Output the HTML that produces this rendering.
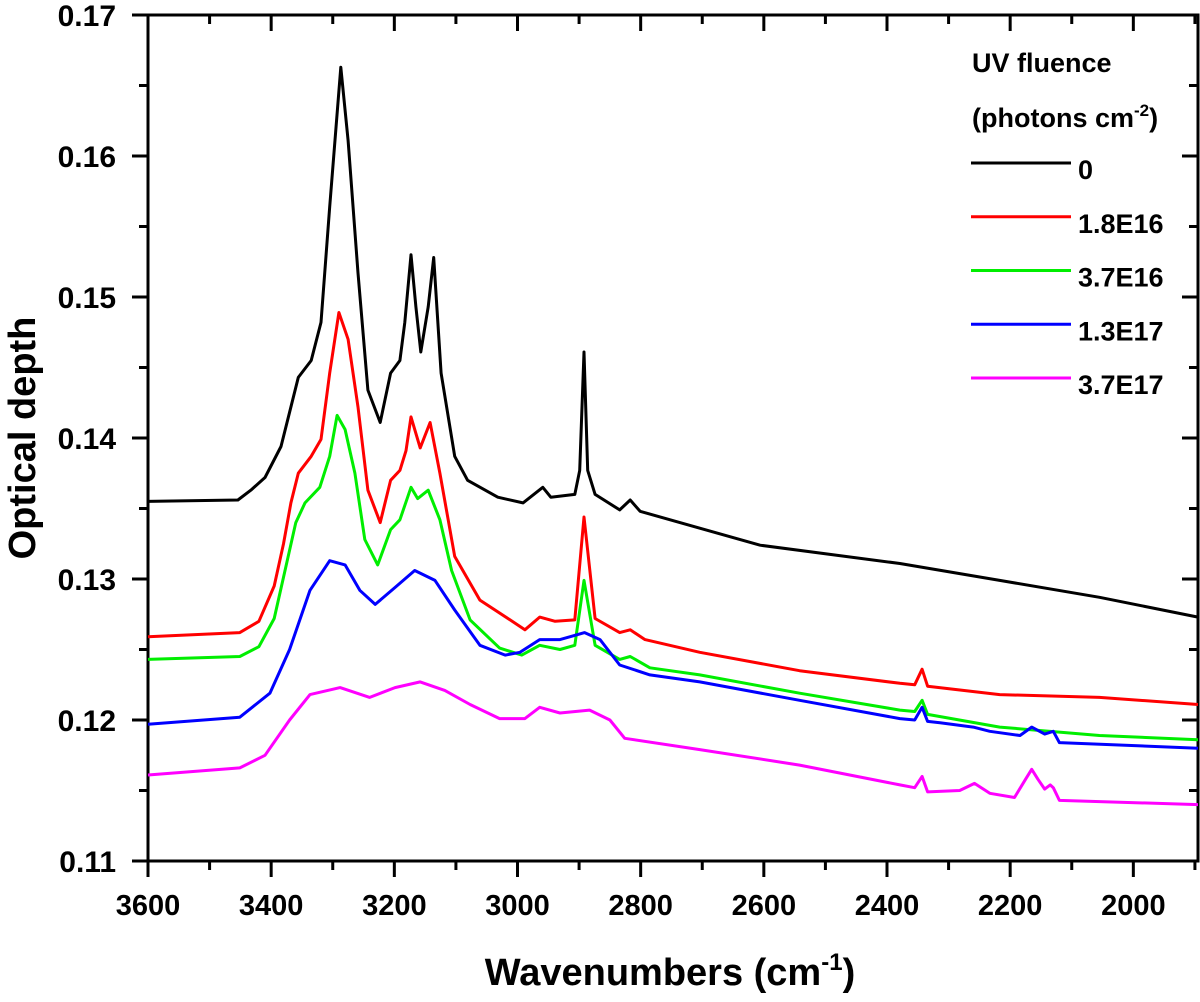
<!DOCTYPE html>
<html><head><meta charset="utf-8"><style>
body{margin:0;background:#fff}
svg{display:block;font-family:"Liberation Sans",Arial,sans-serif;font-weight:bold}
</style></head><body>
<svg id="chart" width="1200" height="1002" viewBox="0 0 1200 1002" xmlns="http://www.w3.org/2000/svg">
<g id="axes"></g>
<g id="series"></g>
<g id="legend">
<text x="972" y="72" font-size="27">UV fluence</text>
<text x="972" y="127" font-size="27">(photons cm<tspan font-size="17" dy="-11">-2</tspan><tspan dy="11">)</tspan></text>
</g>
<text x="670" y="985" font-size="38" text-anchor="middle">Wavenumbers (cm<tspan font-size="24" dy="-15">-1</tspan><tspan dy="15">)</tspan></text>
<text transform="translate(35,438) rotate(-90)" font-size="38" text-anchor="middle">Optical depth</text>
</svg>
<script>
const xTicks=[3600,3400,3200,3000,2800,2600,2400,2200,2000];
const yTicks=[0.11,0.12,0.13,0.14,0.15,0.16,0.17];
const seriesNames=["0","1.8E16","3.7E16","1.3E17","3.7E17"];
const seriesColors=["#000000","#ff0000","#00ee00","#0000ff","#ff00ff"];
const wn0=[3600,3454,3433,3410,3384,3368,3356,3335,3319,3305,3287,3275,3259,3243,3223,3206,3191,3183,3173,3165,3157,3145,3136,3124,3102,3081,3032,2991,2959,2946,2907,2899,2892,2886,2874,2834,2817,2801,2704,2606,2379,2217,2055,1895];
const od0=[0.1355,0.1356,0.1363,0.1372,0.1394,0.1422,0.1443,0.1455,0.1482,0.1564,0.1663,0.1611,0.1517,0.1434,0.1411,0.1446,0.1455,0.1482,0.1530,0.1493,0.1461,0.1493,0.1528,0.1446,0.1387,0.1370,0.1358,0.1354,0.1365,0.1358,0.1360,0.1377,0.1461,0.1377,0.1360,0.1349,0.1356,0.1348,0.1336,0.1324,0.1311,0.1299,0.1287,0.1273];
const wn1=[3600,3451,3420,3395,3380,3368,3356,3335,3319,3305,3290,3275,3259,3243,3223,3206,3191,3181,3173,3158,3142,3126,3102,3061,3012,2988,2964,2939,2907,2892,2874,2834,2817,2793,2704,2542,2379,2355,2343,2334,2217,2055,1895];
const od1=[0.1259,0.1262,0.1270,0.1295,0.1325,0.1354,0.1375,0.1387,0.1399,0.1446,0.1489,0.1470,0.1422,0.1363,0.1340,0.1370,0.1377,0.1391,0.1415,0.1393,0.1411,0.1375,0.1316,0.1285,0.1271,0.1264,0.1273,0.1270,0.1271,0.1344,0.1272,0.1262,0.1264,0.1257,0.1248,0.1235,0.1226,0.1225,0.1236,0.1224,0.1218,0.1216,0.1211];
const wn2=[3600,3451,3420,3395,3378,3360,3345,3321,3305,3293,3280,3264,3248,3227,3206,3191,3173,3162,3145,3126,3107,3077,3029,2993,2964,2931,2907,2892,2874,2834,2817,2785,2704,2542,2379,2355,2343,2334,2217,2055,1895];
const od2=[0.1243,0.1245,0.1252,0.1272,0.1305,0.1340,0.1354,0.1365,0.1387,0.1416,0.1406,0.1375,0.1328,0.1310,0.1335,0.1342,0.1365,0.1357,0.1363,0.1342,0.1306,0.1271,0.1251,0.1246,0.1253,0.1250,0.1253,0.1299,0.1253,0.1243,0.1245,0.1237,0.1232,0.1219,0.1207,0.1206,0.1214,0.1204,0.1195,0.1189,0.1186];
const wn3=[3600,3451,3402,3370,3337,3305,3280,3256,3231,3199,3167,3134,3102,3061,3020,2996,2964,2931,2891,2866,2834,2785,2704,2542,2379,2355,2343,2334,2314,2260,2233,2184,2165,2144,2130,2120,1895];
const od3=[0.1197,0.1202,0.1219,0.1250,0.1292,0.1313,0.1310,0.1292,0.1282,0.1294,0.1306,0.1299,0.1278,0.1253,0.1246,0.1248,0.1257,0.1257,0.1262,0.1257,0.1239,0.1232,0.1227,0.1214,0.1201,0.1200,0.1209,0.1199,0.1198,0.1195,0.1192,0.1189,0.1195,0.1190,0.1192,0.1184,0.1180];
const wn4=[3600,3451,3410,3370,3337,3288,3240,3199,3158,3118,3077,3029,2988,2964,2931,2883,2850,2826,2704,2542,2379,2355,2343,2334,2282,2258,2233,2193,2175,2165,2155,2144,2135,2130,2120,1895];
const od4=[0.1161,0.1166,0.1175,0.1200,0.1218,0.1223,0.1216,0.1223,0.1227,0.1221,0.1211,0.1201,0.1201,0.1209,0.1205,0.1207,0.1200,0.1187,0.1179,0.1168,0.1154,0.1152,0.1160,0.1149,0.1150,0.1155,0.1148,0.1145,0.1158,0.1165,0.1158,0.1151,0.1154,0.1152,0.1143,0.1140];
const allWn=[wn0,wn1,wn2,wn3,wn4], allOd=[od0,od1,od2,od3,od4];

const L=148,R=1198,T=15,B=861;
const xs=w=>L+(3600-w)*(R-L)/(3600-1895);
const ys=v=>B-(v-0.11)*(B-T)/0.06;
const NS="http://www.w3.org/2000/svg";
function mk(tag,attrs,parent){const e=document.createElementNS(NS,tag);for(const k in attrs)e.setAttribute(k,attrs[k]);parent.appendChild(e);return e;}
const axes=document.getElementById('axes');
const frame=mk('rect',{x:L,y:T,width:R-L,height:B-T,fill:'none',stroke:'#000','stroke-width':3},axes);


for(let w=3600;w>=1900;w-=100){
  const major=w%200===0, x=xs(w);
  const t=mk('line',{x1:x,x2:x,y1:B,y2:B+(major?16:9),stroke:'#000','stroke-width':3},axes);
  
  
  const t2=mk('line',{x1:x,x2:x,y1:T,y2:T+(major?16:9),stroke:'#000','stroke-width':3},axes);
  
  
}
xTicks.forEach(w=>{
  const tx=mk('text',{x:xs(w),y:915,'font-size':29,'text-anchor':'middle'},axes);
  tx.textContent=w;
  
  
});
for(let i=0;i<=12;i++){
  const v=0.11+i*0.005, y=ys(v), major=i%2===0;
  const t=mk('line',{x1:L-(major?16:9),x2:L,y1:y,y2:y,stroke:'#000','stroke-width':3},axes);
  
  
  const t2=mk('line',{x1:R-(major?16:9),x2:R,y1:y,y2:y,stroke:'#000','stroke-width':3},axes);
  
  
}
yTicks.forEach(v=>{
  const tx=mk('text',{x:116,y:ys(v)+11,'font-size':30,'text-anchor':'end'},axes);
  tx.textContent=v.toFixed(2);
  
  
});
const sg=document.getElementById('series');
allWn.forEach((wn,i)=>{
  const pts=wn.map((w,j)=>xs(w).toFixed(1)+','+ys(allOd[i][j]).toFixed(1)).join(' ');
  const p=mk('polyline',{points:pts,fill:'none',stroke:seriesColors[i],'stroke-width':3,'stroke-linejoin':'round'},sg);
  
  
});
const lg=document.getElementById('legend');
seriesNames.forEach((n,i)=>{
  const y=163+i*53.75;
  const l=mk('line',{x1:971,x2:1071,y1:y,y2:y,stroke:seriesColors[i],'stroke-width':3},lg);
  
  
  const t=mk('text',{x:1078,y:y+16,'font-size':27},lg);
  t.textContent=n;
  
  
});
</script>
</body></html>
